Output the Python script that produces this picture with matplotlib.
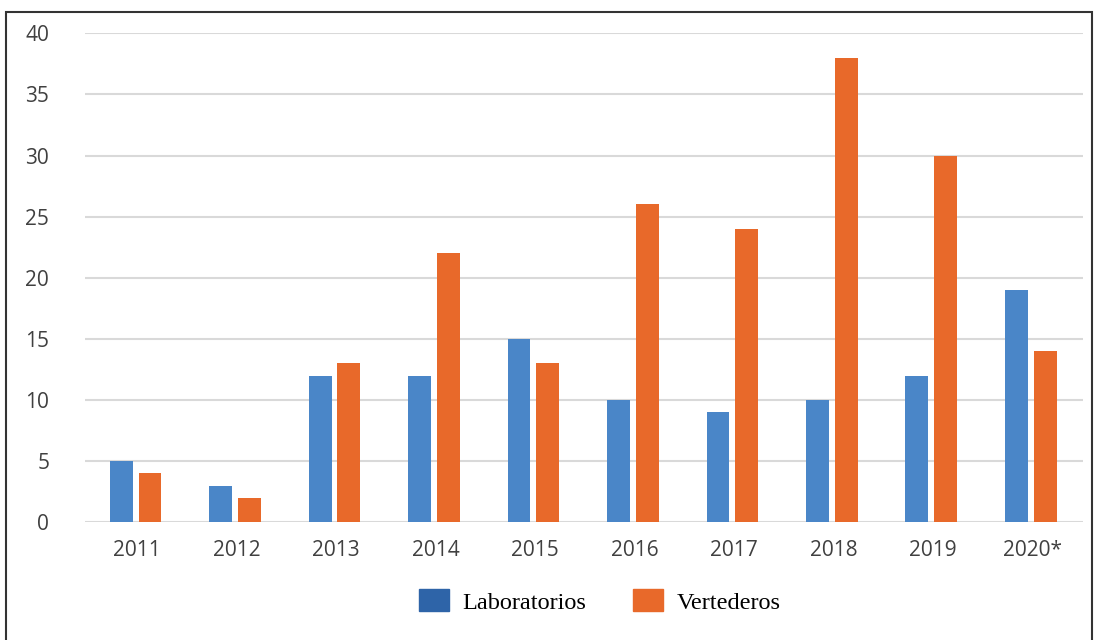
import numpy as np
import matplotlib.pyplot as plt
from matplotlib.patches import Rectangle, Patch

years = ['2011', '2012', '2013', '2014', '2015', '2016', '2017', '2018', '2019', '2020*']
laboratorios = [5, 3, 12, 12, 15, 10, 9, 10, 12, 19]
vertederos = [4, 2, 13, 22, 13, 26, 24, 38, 30, 14]

blue = '#4a86c8'
orange = '#e8692a'

fig = plt.figure(figsize=(10.94, 6.4), dpi=100)
ax = fig.add_axes([0.078, 0.184, 0.912, 0.764])

x = np.arange(len(years))
w = 0.23
ax.bar(x - 0.16, laboratorios, w, color=blue, zorder=3)
ax.bar(x + 0.13, vertederos, w, color=orange, zorder=3)

ax.set_xlim(-0.52, 9.51)
ax.set_ylim(0, 40)
ax.set_yticks(range(0, 41, 5))
ax.set_xticks(x)
ax.set_xticklabels(years)
ax.grid(axis='y', color='#d9d9d9', linewidth=1.5, zorder=0)
for s in ax.spines.values():
    s.set_visible(False)
ax.tick_params(length=0, labelsize=15, labelcolor='#404040')
ax.tick_params(axis='y', pad=26)
ax.tick_params(axis='x', pad=13)
for lbl in ax.get_xticklabels() + ax.get_yticklabels():
    lbl.set_family('Open Sans')

handles = [Patch(color='#2e64a8'), Patch(color=orange)]
fig.legend(handles, ['Laboratorios', 'Vertederos'], loc='center',
           bbox_to_anchor=(0.548, 0.06), ncol=2, frameon=False,
           prop={'family': 'Liberation Serif', 'size': 17.5},
           handlelength=1.25, handleheight=1.0, columnspacing=1.9, handletextpad=0.55)

fig.patches.append(Rectangle((6 / 1094, -0.01), 1086 / 1094, 1 - 12 / 640 + 0.01,
                             transform=fig.transFigure, fill=False,
                             edgecolor='#333333', linewidth=1.5))

fig.savefig('out.png', dpi=100)
